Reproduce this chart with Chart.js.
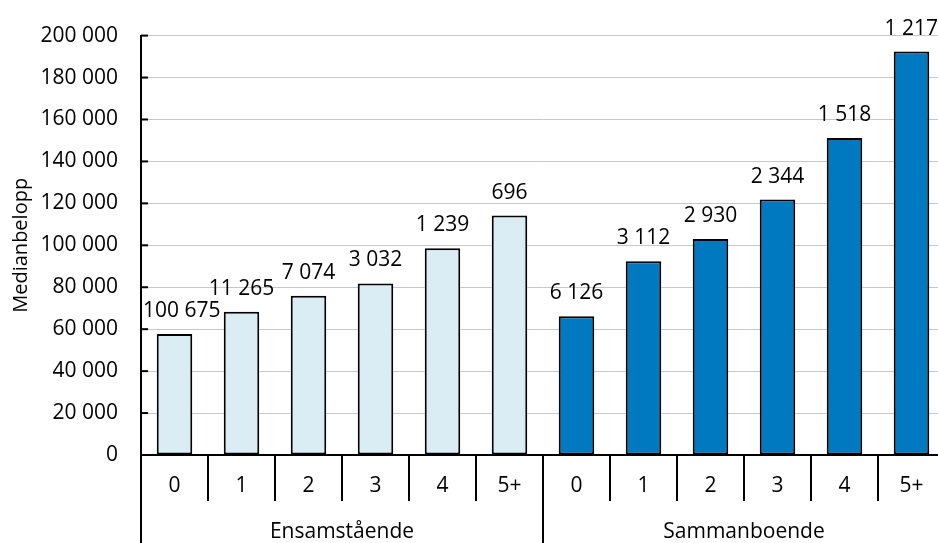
<!DOCTYPE html>
<html>
<head>
<meta charset="utf-8">
<script src="https://cdn.jsdelivr.net/npm/chart.js@4"></script>
<style>
  html, body { margin: 0; padding: 0; background: #fff; overflow: hidden; }
  canvas { display: block; }
</style>
</head>
<body>
<canvas id="chart" width="946" height="543"></canvas>
<script>
// Chart data
const childLabels = ['0', '1', '2', '3', '4', '5+'];
const groupLabels = ['Ensamstående', 'Sammanboende'];
const ensamMedian = [57700, 68300, 76000, 81800, 98600, 114200];
const sammanMedian = [66200, 92400, 103000, 121800, 151200, 192400];
const ensamCount = [100675, 11265, 7074, 3032, 1239, 696];
const sammanCount = [6126, 3112, 2930, 2344, 1518, 1217];
const yMax = 200000;
const yStep = 20000;

const lightBlue = '#DAEDF4';
const darkBlue = '#0079C0';
const fontFamily = '"Open Sans", "Noto Sans", sans-serif';
const fontSize = 21;

// Helper: 100675 -> "100 675"
function fmt(n) {
    return String(n).replace(/\B(?=(\d{3})+(?!\d))/g, ' ');
}

const labels = childLabels.concat(childLabels);
const values = ensamMedian.concat(sammanMedian);
const counts = ensamCount.concat(sammanCount);
const colors = ensamMedian.map(() => lightBlue).concat(sammanMedian.map(() => darkBlue));

// Draws inner ticks, category dividers, group names and count labels
const extrasPlugin = {
    id: 'extras',
    afterDraw(chart) {
        const ctx = chart.ctx;
        const x = chart.scales.x;
        const y = chart.scales.y;
        const area = chart.chartArea;
        const half = (x.getPixelForValue(1) - x.getPixelForValue(0)) / 2;

        function line(x1, y1, x2, y2) {
            ctx.beginPath();
            ctx.moveTo(x1, y1);
            ctx.lineTo(x2, y2);
            ctx.stroke();
        }

        ctx.save();
        ctx.strokeStyle = '#000';
        ctx.lineWidth = 2;

        // short tick marks pointing into the plot
        y.ticks.forEach((t, i) => {
            const py = y.getPixelForTick(i);
            line(area.left, py, area.left + 7, py);
        });

        // dividers under the x axis
        const n = labels.length;
        for (let i = 0; i <= n; i++) {
            const px = i === n ? x.getPixelForValue(n - 1) + half : x.getPixelForValue(i) - half;
            const isGroupEdge = i % childLabels.length === 0;
            line(px, area.bottom, px, isGroupEdge ? chart.height : area.bottom + 46);
        }

        // group names
        ctx.fillStyle = '#000';
        ctx.font = fontSize + 'px ' + fontFamily;
        ctx.textAlign = 'center';
        ctx.textBaseline = 'middle';
        groupLabels.forEach((g, gi) => {
            const first = gi * childLabels.length;
            const last = first + childLabels.length - 1;
            const cx = (x.getPixelForValue(first) + x.getPixelForValue(last)) / 2;
            ctx.fillText(g, cx, 532);
        });

        // counts above the bars
        ctx.textBaseline = 'alphabetic';
        const meta = chart.getDatasetMeta(0);
        meta.data.forEach((bar, i) => {
            const text = fmt(counts[i]);
            const w = ctx.measureText(text).width;
            let cx = bar.x;
            cx = Math.max(cx, area.left + w / 2 + 2);
            cx = Math.min(cx, chart.width - 8 - w / 2);
            ctx.fillText(text, cx, bar.y - 17);
        });
        ctx.restore();
    }
};

const chart = new Chart(document.getElementById('chart').getContext('2d'), {
    type: 'bar',
    data: {
        labels: labels,
        datasets: [{
            data: values,
            backgroundColor: colors,
            borderColor: '#000',
            borderWidth: 2,
            borderSkipped: false,
            barPercentage: 0.53,
            categoryPercentage: 1
        }]
    },
    options: {
        responsive: false,
        animation: false,
        layout: { padding: { top: 33, right: 1, left: 0, bottom: 0 } },
        plugins: {
            legend: { display: false },
            tooltip: { enabled: false }
        },
        scales: {
            x: {
                grid: { display: false, drawTicks: false },
                border: { color: '#000', width: 2 },
                ticks: {
                    color: '#000',
                    font: { family: fontFamily, size: fontSize },
                    padding: 18,
                    maxRotation: 0,
                    autoSkip: false
                },
                afterFit(scale) { scale.height = 88; }
            },
            y: {
                min: 0,
                max: yMax,
                grid: { color: '#C8C8C8', lineWidth: 1, drawTicks: false },
                border: { color: '#000', width: 2 },
                ticks: {
                    stepSize: yStep,
                    color: '#000',
                    padding: 23,
                    font: { family: fontFamily, size: fontSize },
                    callback: v => fmt(v)
                },
                title: {
                    display: true,
                    text: 'Medianbelopp',
                    color: '#000',
                    font: { family: fontFamily, size: 20 },
                    padding: { top: 9, bottom: 0 }
                },
                afterFit(scale) { scale.width = 141; }
            }
        }
    },
    plugins: [extrasPlugin]
});
</script>
</body>
</html>
